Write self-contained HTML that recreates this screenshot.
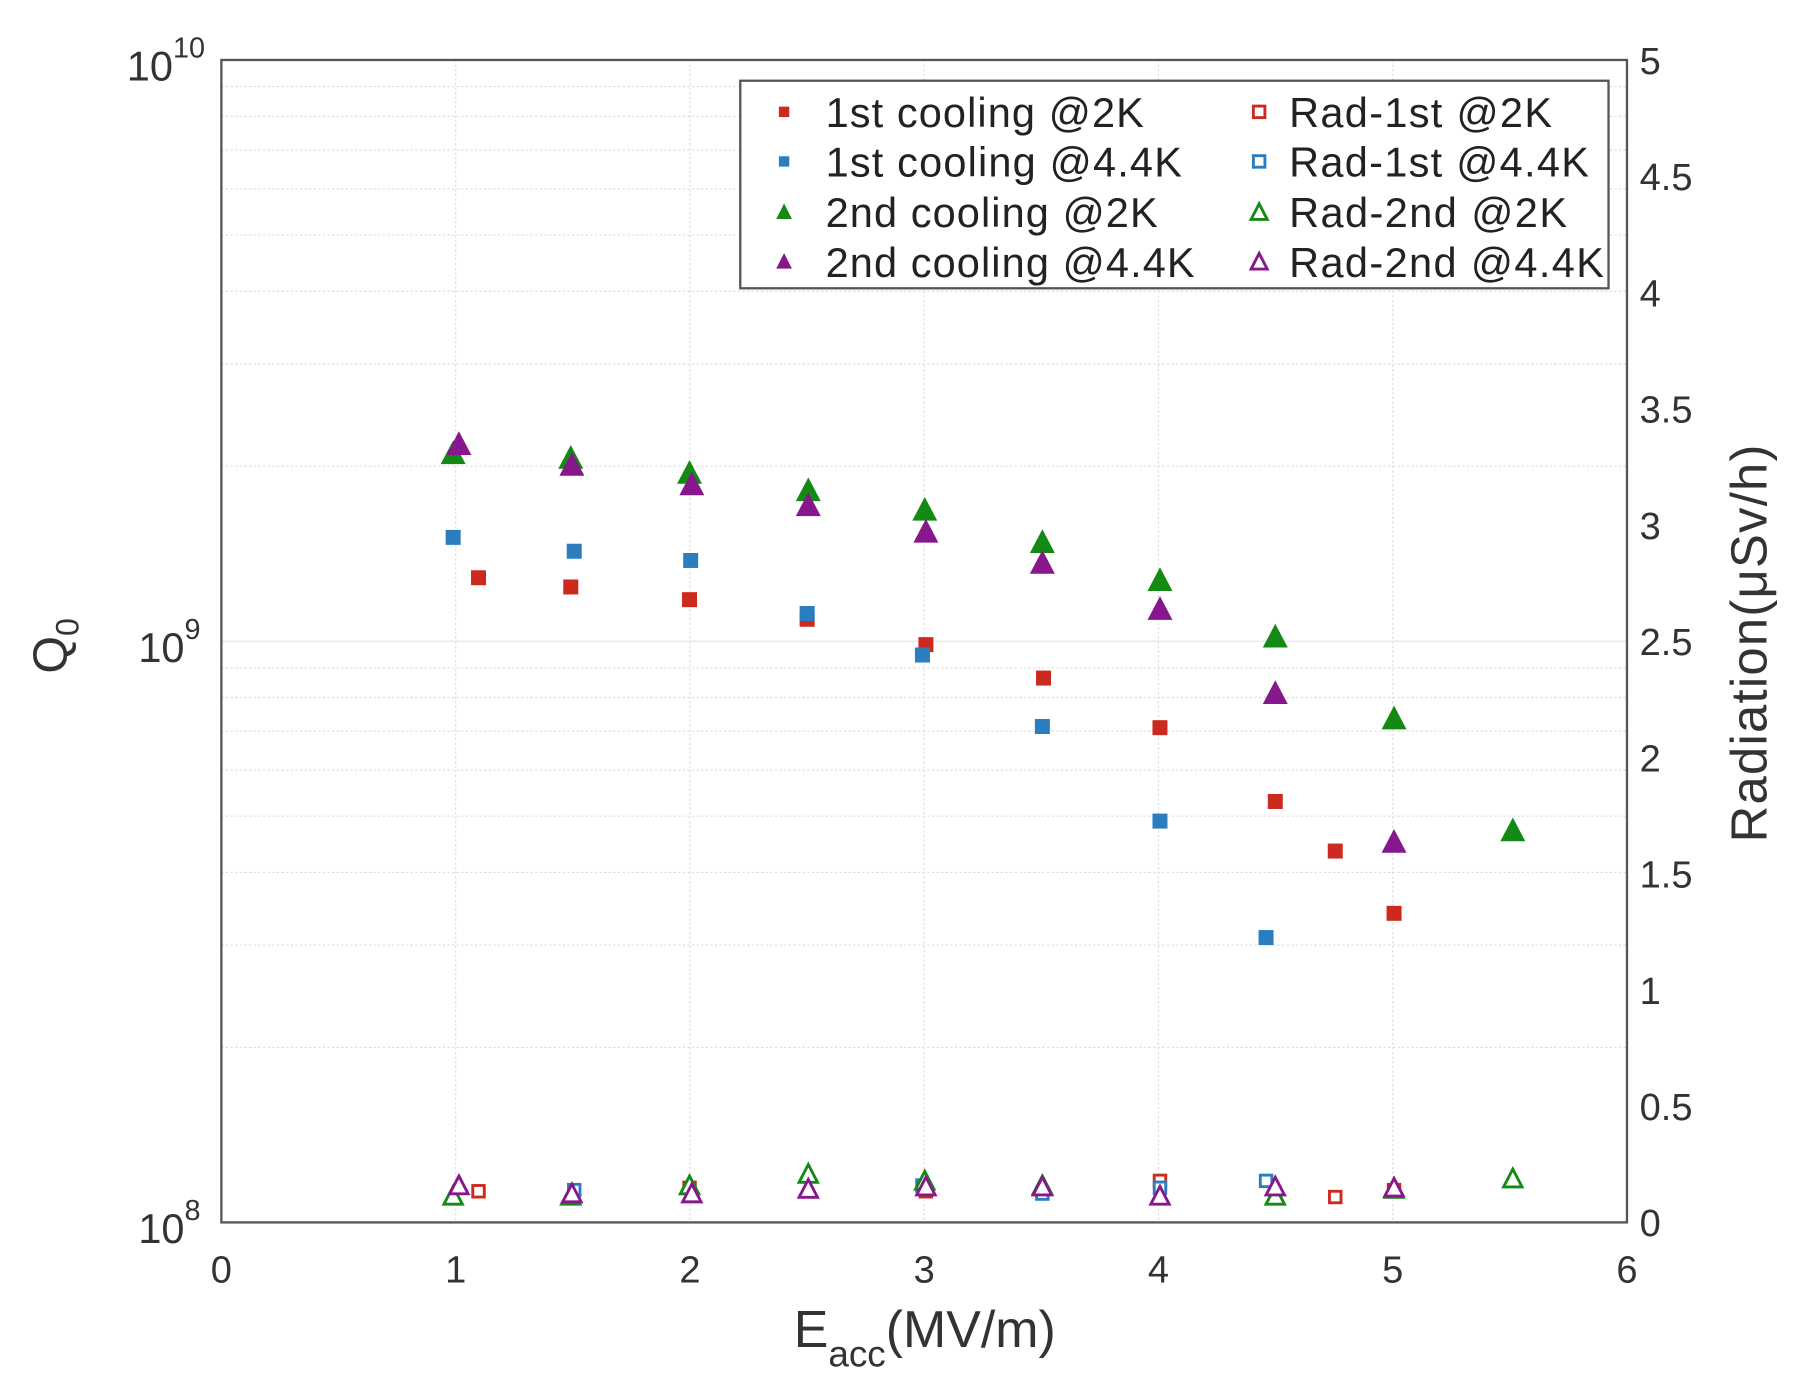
<!DOCTYPE html>
<html><head><meta charset="utf-8"><style>html,body{margin:0;padding:0;background:#fff}svg{display:block}</style></head>
<body>
<svg width="1808" height="1400" viewBox="0 0 1568 1214" preserveAspectRatio="none" xmlns="http://www.w3.org/2000/svg" font-family="Liberation Sans, Arial, sans-serif">
<rect width="1568" height="1214" fill="#fff"/>
<g id="grid" stroke="#ddd" stroke-width="1" stroke-dasharray="2,2"></g>
<rect x="192" y="52" width="1219" height="1008" fill="none" stroke="#555" stroke-width="2"/>
<g id="ticks" font-size="33" fill="#333"></g>
<g id="pts"></g>
<text x="58" y="560" font-size="42" fill="#333" transform="rotate(-90 58 560)" text-anchor="middle">Q<tspan font-size="28" dy="10">0</tspan></text>
<text x="1532" y="558" font-size="44" fill="#333" transform="rotate(-90 1532 558)" text-anchor="middle" textLength="345">Radiation(μSv/h)</text>
<text x="802" y="1168" font-size="45" fill="#333" text-anchor="middle">E<tspan font-size="32" dy="17">acc</tspan><tspan dy="-17">(MV/m)</tspan></text>
<rect x="642" y="70" width="753" height="180" fill="#fff" stroke="#555" stroke-width="2"/>
<g font-size="36" fill="#222">
<text x="716" y="110" textLength="276">1st cooling @2K</text><text x="716" y="153" textLength="309">1st cooling @4.4K</text>
<text x="716" y="197" textLength="288">2nd cooling @2K</text><text x="716" y="240" textLength="320">2nd cooling @4.4K</text>
<text x="1118" y="110" textLength="228">Rad-1st @2K</text><text x="1118" y="153" textLength="260">Rad-1st @4.4K</text>
<text x="1118" y="197" textLength="241">Rad-2nd @2K</text><text x="1118" y="240" textLength="273">Rad-2nd @4.4K</text>
</g>
<g id="leg"></g>
<script>
var NS="http://www.w3.org/2000/svg";
function el(p,t,a){var e=document.createElementNS(NS,t);for(var k in a)e.setAttribute(k,a[k]);p.appendChild(e);return e;}
var g=document.getElementById('grid'),tk=document.getElementById('ticks');
for(var i=1;i<6;i++){var x=192+i*203.17;el(g,'line',{x1:x,y1:52,x2:x,y2:1060});}
for(var d=0;d<2;d++)for(var m=2;m<=10;m++){var y=1060-504*(d+Math.log10(m));if(y<=53)continue;var l=el(g,'line',{x1:192,y1:y,x2:1411,y2:y});if(m==10){l.setAttribute('stroke-dasharray','none');l.setAttribute('stroke','#e4e4e4');}}
for(var i=0;i<=6;i++){var t=el(tk,'text',{x:192+i*203.17,y:1112,'text-anchor':'middle'});t.textContent=i;}
for(var i=0;i<=10;i++){var v=i*0.5,t=el(tk,'text',{x:1422,y:1060-i*100.8+12});t.textContent=(v%1==0?v.toFixed(0):v);}
[[1060,'8'],[556,'9'],[52,'10']].forEach(function(a){var xe=a[1]=='10'?150:160;var t=el(tk,'text',{x:xe,y:a[0]+18,'text-anchor':'end','font-size':36});t.textContent='10';var s=el(tk,'text',{x:xe,y:a[0]-2,'font-size':25});s.textContent=a[1];});
var P=document.getElementById('pts');
var R='#cc2a1e',B='#2a7ec0',G='#138a13',M='#86178c';
function sq(p,x,y,c,f,s){el(p,'rect',{x:x-s/2,y:y-s/2,width:s,height:s,fill:f?c:'#fff',stroke:c,'stroke-width':f?0:2.5});}
function tr(p,x,y,c,f,s){var h=s*0.9;el(p,'polygon',{points:(x)+','+(y-h/2-1)+' '+(x-s/2)+','+(y+h/2)+' '+(x+s/2)+','+(y+h/2),fill:f?c:'#fff',stroke:c,'stroke-width':f?1:2.5});}
[[415,501],[495,509],[598,520],[700,537],[803,559],[905,588],[1006,631],[1106,695],[1158,738],[1209,792]].forEach(function(p){sq(P,p[0],p[1],R,1,13);});
[[393,466],[498,478],[599,486],[700,532],[800,568],[904,630],[1006,712],[1098,813]].forEach(function(p){sq(P,p[0],p[1],B,1,13);});
[[393,393],[495,397],[598,410],[701,425],[802,442],[904,470],[1006,503],[1106,552],[1209,623],[1312,720]].forEach(function(p){tr(P,p[0],p[1],G,1,20);});
[[398,385],[496,403],[600,420],[701,438],[803,461],[904,488],[1006,528],[1106,601],[1209,730]].forEach(function(p){tr(P,p[0],p[1],M,1,20);});
[[415,1033],[1006,1024],[1158,1038],[803,1033],[598,1030],[1209,1032]].forEach(function(p){sq(P,p[0],p[1],R,0,10);});
[[498,1032],[1098,1024],[1006,1030],[904,1035],[800,1028]].forEach(function(p){sq(P,p[0],p[1],B,0,10);});
[[393,1037],[495,1037],[598,1028],[701,1018],[802,1024],[904,1028],[1106,1037],[1209,1031],[1312,1022]].forEach(function(p){tr(P,p[0],p[1],G,0,16);});
[[398,1028],[496,1035],[600,1035],[701,1031],[803,1029],[904,1029],[1006,1037],[1106,1029],[1209,1030]].forEach(function(p){tr(P,p[0],p[1],M,0,16);});
var L=document.getElementById('leg');
sq(L,680,97,R,1,9);sq(L,680,140,B,1,9);tr(L,680,184,G,1,12);tr(L,680,227,M,1,12);
sq(L,1092,97,R,0,10);sq(L,1092,140,B,0,10);tr(L,1092,184,G,0,14);tr(L,1092,227,M,0,14);
</script>
</svg>
</body></html>
